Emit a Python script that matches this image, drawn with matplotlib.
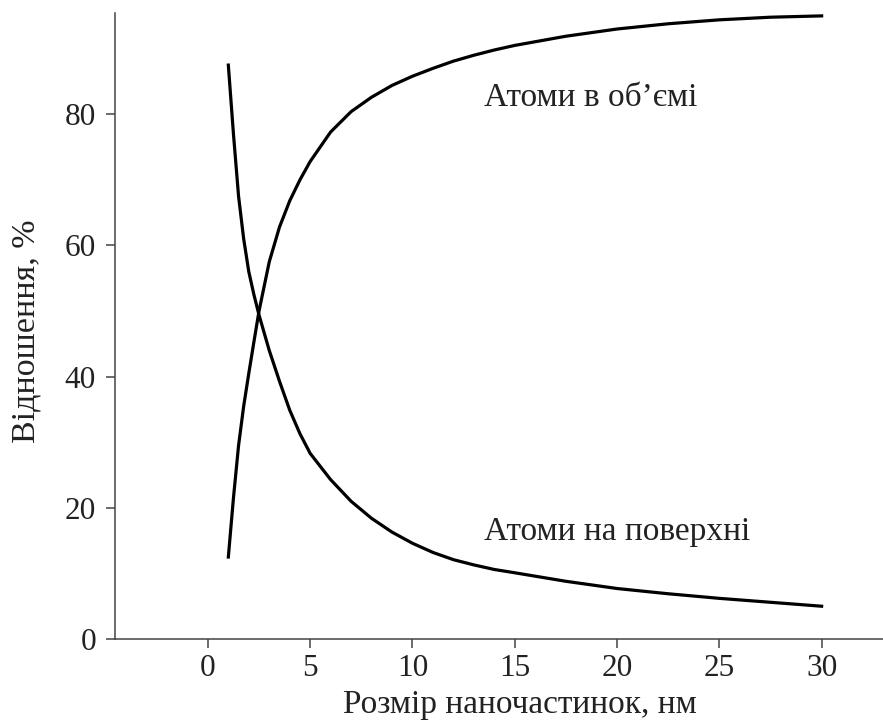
import matplotlib
matplotlib.use("Agg")
import matplotlib.pyplot as plt

# Particle size, nm
size_nm = [1, 1.25, 1.5, 1.75, 2, 2.25, 2.5, 3, 3.5, 4, 4.5, 5, 6, 7, 8, 9,
           10, 11, 12, 13, 14, 15, 17.5, 20, 22.5, 25, 27.5, 30]
# Share of atoms on the surface, %
surface_pct = [87.5, 77, 67.5, 61, 56, 52.5, 49.4, 44, 39.3, 34.9, 31.3,
               28.3, 24.3, 21, 18.4, 16.3, 14.6, 13.2, 12.1, 11.3, 10.6,
               10.1, 8.8, 7.7, 6.9, 6.2, 5.6, 5.0]
# Share of atoms in the volume, %
bulk_pct = [12.5, 21.5, 29.5, 35.5, 40.5, 45.3, 50, 57.5, 62.8, 66.8, 70,
            72.8, 77.3, 80.4, 82.6, 84.4, 85.8, 87.0, 88.1, 89.0, 89.8,
            90.5, 91.9, 93.0, 93.8, 94.4, 94.8, 95.0]

x_ticks = [0, 5, 10, 15, 20, 25, 30]
y_ticks = [0, 20, 40, 60, 80]

plt.rcParams["font.family"] = ["Liberation Serif", "DejaVu Serif"]

ink = "#222222"
axis_grey = "#444444"

fig = plt.figure(figsize=(8.83, 7.25), dpi=100)
ax = fig.add_axes([0.130, 0.1186, 0.870, 0.864])

ax.plot(size_nm, surface_pct, color="black", lw=2.3, solid_joinstyle="round")
ax.plot(size_nm, bulk_pct, color="black", lw=2.3, solid_joinstyle="round")

ax.set_xlim(-4.55, 33)
ax.set_ylim(0, 95.5)
ax.set_xticks(x_ticks)
ax.set_yticks(y_ticks)

for side in ("top", "right"):
    ax.spines[side].set_visible(False)
for side in ("left", "bottom"):
    ax.spines[side].set_color(axis_grey)
    ax.spines[side].set_linewidth(1.1)

ax.tick_params(direction="out", length=6.5, width=1.1, color=axis_grey,
               labelsize=22.5, labelcolor=ink)
ax.tick_params(axis="x", pad=4)
ax.tick_params(axis="y", pad=7)

ax.set_xlabel("Розмір наночастинок, нм", fontsize=24, color=ink, labelpad=5)
ax.xaxis.label.set_x(0.527)
ax.set_ylabel("Відношення, %", fontsize=24.5, color=ink, labelpad=16.5)
ax.yaxis.label.set_y(0.491)

ax.text(13.5, 81.3, "Атоми в об’ємі", fontsize=24, color=ink,
        ha="left", va="baseline")
ax.text(13.5, 15.1, "Атоми на поверхні", fontsize=24, color=ink,
        ha="left", va="baseline")

fig.savefig("out.png", dpi=100)
